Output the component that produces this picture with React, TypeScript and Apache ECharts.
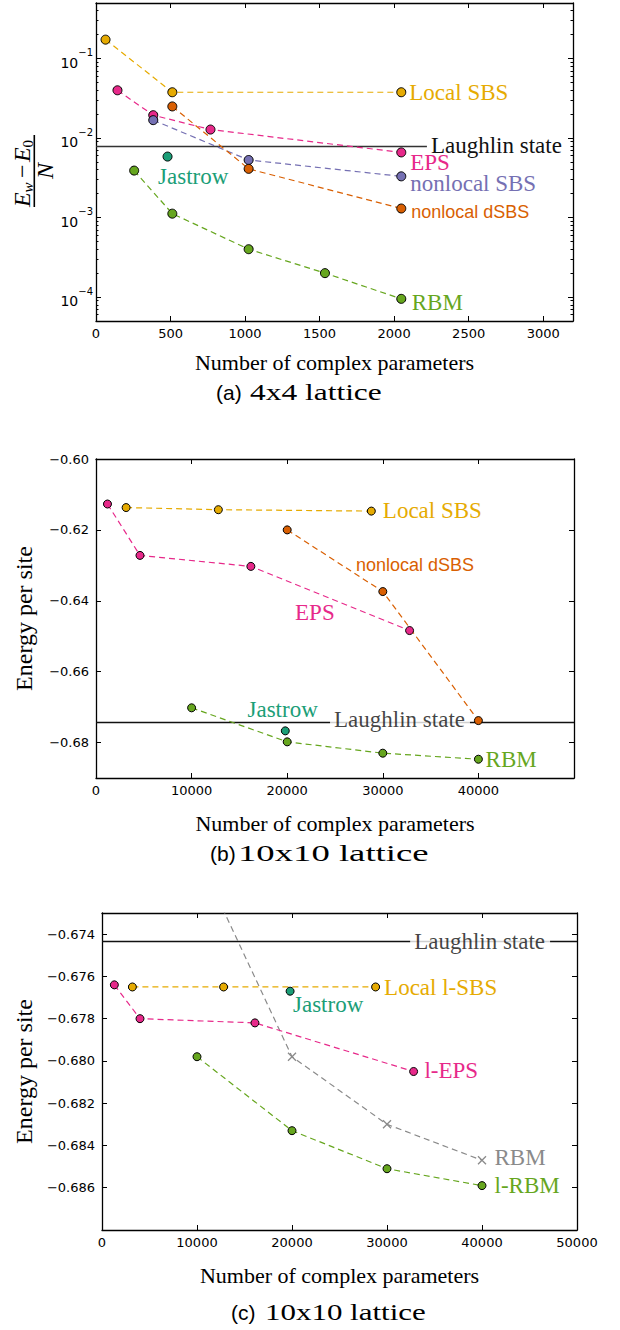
import React, { useEffect, useRef } from "react";
import * as echarts from "echarts";

// ---------- Panel (a): 4x4 lattice (log scale) ----------
const aLocalSBS = [[64, 0.173], [512, 0.0377], [2048, 0.0377]];
const aEPS = [[144, 0.0399], [384, 0.0194], [768, 0.0128], [2048, 0.0066]];
const aNonlocalSBS = [[384, 0.0168], [1024, 0.0053], [2048, 0.0033]];
const aNonlocalDSBS = [[512, 0.025], [1024, 0.0041], [2048, 0.0013]];
const aJastrow = [[480, 0.00585]];
const aRBM = [[256, 0.0039], [512, 0.00112], [1024, 0.0004], [1536, 0.0002], [2048, 0.000095]];
const aLaughlin = 0.00785;
const aLaughlinEnd = 2220;
const aXTicks = [0, 500, 1000, 1500, 2000, 2500, 3000];
const aYMajor = [1e-4, 1e-3, 1e-2, 1e-1];
const aYExponents = ["−4", "−3", "−2", "−1"];
const aYMinor = [
  6e-5, 7e-5, 8e-5, 9e-5,
  2e-4, 3e-4, 4e-4, 5e-4, 6e-4, 7e-4, 8e-4, 9e-4,
  2e-3, 3e-3, 4e-3, 5e-3, 6e-3, 7e-3, 8e-3, 9e-3,
  2e-2, 3e-2, 4e-2, 5e-2, 6e-2, 7e-2, 8e-2, 9e-2,
  2e-1, 3e-1, 4e-1,
];

// ---------- Panel (b): 10x10 lattice ----------
const bLocalSBS = [[3150, -0.6137], [12800, -0.6143], [28800, -0.6147]];
const bEPS = [[1200, -0.6127], [4600, -0.6272], [16200, -0.6303], [32800, -0.6484]];
const bNonlocalDSBS = [[20000, -0.62], [30000, -0.6374], [40000, -0.6738]];
const jastrow10 = [[19800, -0.6767]];
const rbm10 = [[10000, -0.6702], [20000, -0.6798], [30000, -0.683], [40000, -0.6847]];
const laughlin10 = -0.67435;
const bLaughlinLabelX = 31800;
const bXLabels = [0, 10000, 20000, 30000, 40000];
const bYTicks = [-0.68, -0.66, -0.64, -0.62, -0.6];

// ---------- Panel (c): 10x10 lattice, zoomed ----------
const cLocalLSBS = [[3200, -0.6765], [12800, -0.6765], [28800, -0.6765]];
const cLEPS = [[1300, -0.6764], [4000, -0.678], [16100, -0.6782], [32800, -0.6805]];
const cLRBM = [[10000, -0.6798], [20000, -0.6833], [30000, -0.6851], [40000, -0.6859]];
const cLaughlinLabelX = 39800;
const cXLabels = [0, 10000, 20000, 30000, 40000, 50000];
const cYTicks = [-0.686, -0.684, -0.682, -0.68, -0.678, -0.676, -0.674];

const SERIF = "'Liberation Serif', 'Times New Roman', serif";
const SANS = "'DejaVu Sans', sans-serif";
const HELV = "'Liberation Sans', Arial, sans-serif";
const COL = {
  yellow: "#E6AB02",
  pink: "#E7298A",
  purple: "#7570B3",
  orange: "#D95F02",
  green: "#66A61E",
  teal: "#1B9E77",
  gray: "#8a8a8a",
};

const axisLineStyle = { color: "#000", width: 1.3 };
const tickFont = { fontFamily: SANS, fontSize: 13, color: "#000" };

function xAxes(gi: number, max: number, labels: number[], ticks: number[], name: string, nameGap: number) {
  return [
    {
      type: "value", gridIndex: gi, position: "bottom", min: 0, max,
      axisLine: { show: true, onZero: false, lineStyle: axisLineStyle },
      axisTick: { show: true, inside: true, length: 5, customValues: ticks, lineStyle: { color: "#000" } },
      axisLabel: { show: true, customValues: labels, margin: 6, ...tickFont, formatter: (v: number) => String(v) },
      splitLine: { show: false },
      name, nameLocation: "middle", nameGap,
      nameTextStyle: { fontFamily: SERIF, fontSize: 22, color: "#000" },
    },
    {
      type: "value", gridIndex: gi, position: "top", min: 0, max,
      axisLine: { show: true, onZero: false, lineStyle: axisLineStyle },
      axisTick: { show: true, inside: true, length: 5, customValues: ticks, lineStyle: { color: "#000" } },
      axisLabel: { show: false },
      splitLine: { show: false },
    },
  ];
}

function yAxesLinear(gi: number, min: number, max: number, ticks: number[], digits: number, name: string, nameGap: number) {
  const fmt = (v: number) => (v < 0 ? "−" : "") + Math.abs(v).toFixed(digits);
  return [
    {
      type: "value", gridIndex: gi, position: "left", min, max,
      axisLine: { show: true, onZero: false, lineStyle: axisLineStyle },
      axisTick: { show: true, inside: true, length: 5, customValues: ticks, lineStyle: { color: "#000" } },
      axisLabel: { show: true, customValues: ticks, margin: 7, ...tickFont, formatter: fmt },
      splitLine: { show: false },
      name, nameLocation: "middle", nameGap,
      nameTextStyle: { fontFamily: SERIF, fontSize: 24, color: "#000" },
    },
    {
      type: "value", gridIndex: gi, position: "right", min, max,
      axisLine: { show: true, onZero: false, lineStyle: axisLineStyle },
      axisTick: { show: true, inside: true, length: 5, customValues: ticks, lineStyle: { color: "#000" } },
      axisLabel: { show: false },
      splitLine: { show: false },
    },
  ];
}

function logAxis(position: string, ticks: number[], len: number, withLabels: boolean, showLine: boolean) {
  return {
    type: "log", logBase: 10, gridIndex: 0, position, min: 5e-5, max: 0.5,
    axisLine: { show: showLine, onZero: false, lineStyle: axisLineStyle },
    axisTick: { show: true, inside: true, length: len, customValues: ticks, lineStyle: { color: "#000" } },
    axisLabel: withLabels
      ? {
          show: true, customValues: aYMajor, margin: 3, color: "#000",
          formatter: (v: number) => {
            const i = aYMajor.findIndex((m) => Math.abs(Math.log10(m) - Math.log10(v)) < 1e-6);
            return i >= 0 ? "{b|10}{s|" + aYExponents[i] + "}" : "";
          },
          rich: {
            b: { fontFamily: SANS, fontSize: 14, color: "#000", lineHeight: 22, verticalAlign: "bottom" },
            s: { fontFamily: SANS, fontSize: 10, color: "#000", lineHeight: 12, verticalAlign: "top" },
          },
        }
      : { show: false },
    splitLine: { show: false },
  };
}

type LabelCfg = {
  text: string;
  index?: number;
  position?: string;
  distance?: number;
  offset?: number[];
  font?: string;
  size?: number;
  color: string;
};

function pts(data: number[][], lab?: LabelCfg) {
  const li = lab ? (lab.index ?? data.length - 1) : -1;
  return data.map((p, i) =>
    i === li && lab
      ? {
          value: p,
          label: {
            show: true,
            formatter: lab.text,
            position: lab.position ?? "right",
            distance: lab.distance ?? 4,
            offset: lab.offset ?? [0, 0],
            color: lab.color,
            fontFamily: lab.font ?? SERIF,
            fontSize: lab.size ?? 23,
            lineHeight: 17,
          },
        }
      : { value: p }
  );
}

function lineSeries(data: number[][], color: string, xi: number, yi: number, size: number, lab?: LabelCfg, symbol = "circle") {
  const isX = symbol !== "circle";
  return {
    type: "line", xAxisIndex: xi, yAxisIndex: yi,
    data: pts(data, lab),
    symbol, symbolSize: size, showSymbol: true, showAllSymbol: true,
    itemStyle: isX
      ? { color: "none", borderColor: color, borderWidth: 1.3 }
      : { color, borderColor: "#000", borderWidth: 1 },
    lineStyle: { color, width: 1.2, type: [6, 4] },
    label: { show: false },
    emphasis: { disabled: true },
    z: 3,
  };
}

function pointSeries(data: number[][], color: string, xi: number, yi: number, size: number, lab?: LabelCfg) {
  return {
    type: "scatter", xAxisIndex: xi, yAxisIndex: yi,
    data: pts(data, lab),
    symbol: "circle", symbolSize: size,
    itemStyle: { color, borderColor: "#000", borderWidth: 1, opacity: 1 },
    label: { show: false },
    emphasis: { disabled: true },
    z: 4,
  };
}

function laughlinFull(v: number, xmax: number, labelX: number, xi: number, yi: number, dy: number) {
  return [
    {
      type: "line", xAxisIndex: xi, yAxisIndex: yi,
      data: [[0, v], [xmax, v]],
      symbol: "none",
      lineStyle: { color: "#111", width: 1.4, type: "solid" },
      emphasis: { disabled: true },
      z: 2,
    },
    {
      type: "scatter", xAxisIndex: xi, yAxisIndex: yi,
      data: [{
        value: [labelX, v],
        label: {
          show: true, formatter: "Laughlin state", position: "inside", offset: [0, dy],
          color: "#111", fontFamily: SERIF, fontSize: 23, lineHeight: 20,
          backgroundColor: "#fff", padding: [1, 5, 1, 4],
        },
      }],
      symbolSize: 1,
      itemStyle: { color: "rgba(0,0,0,0)" },
      emphasis: { disabled: true },
      z: 2.5,
    },
  ];
}

export default function App() {
  const ref = useRef<HTMLDivElement>(null);

  useEffect(() => {
    if (!ref.current) return;
    const chart = echarts.init(ref.current, undefined, { renderer: "svg" });

    const fracText = (text: string, x: number, y: number, size: number, italic: boolean) => ({
      type: "text", x, y,
      style: {
        text, fontFamily: SERIF, fontSize: size, fontStyle: italic ? "italic" : "normal",
        fill: "#000", align: "left", verticalAlign: "middle",
      },
    });

    const caption = (tag: string, rest: string, x: number, restX: number, scaleX: number, y: number) => ({
      type: "group", x: 0, y,
      children: [
        { type: "text", x, y: 0, style: { text: tag, fontFamily: HELV, fontSize: 21, fill: "#000", align: "left", verticalAlign: "middle" } },
        { type: "text", x: restX, y: 0, scaleX, style: { text: rest, fontFamily: SERIF, fontSize: 24, fill: "#000", align: "left", verticalAlign: "middle" } },
      ],
    });

    const option = {
      animation: false,
      grid: [
        { left: 96, top: 3, width: 477, height: 318 },
        { left: 96, top: 459, width: 478, height: 319 },
        { left: 102, top: 913, width: 475, height: 317 },
      ],
      xAxis: [
        ...xAxes(0, 3200, aXTicks, aXTicks, "Number of complex parameters", 30),
        ...xAxes(1, 50000, bXLabels, bXLabels, "Number of complex parameters", 34),
        ...xAxes(2, 50000, cXLabels, cXLabels, "Number of complex parameters", 34),
      ],
      yAxis: [
        logAxis("left", aYMajor, 5, true, true),
        logAxis("right", aYMajor, 5, false, true),
        logAxis("left", aYMinor, 2.5, false, false),
        logAxis("right", aYMinor, 2.5, false, false),
        ...yAxesLinear(1, -0.69, -0.6, bYTicks, 2, "Energy per site", 60),
        ...yAxesLinear(2, -0.688, -0.673, cYTicks, 3, "Energy per site", 65),
      ],
      series: [
        // (a)
        {
          type: "line", xAxisIndex: 0, yAxisIndex: 0,
          data: [[0, aLaughlin], [aLaughlinEnd, aLaughlin]],
          symbol: "none",
          lineStyle: { color: "#333", width: 1.6, type: "solid" },
          endLabel: { show: true, formatter: "Laughlin state", distance: 4, offset: [0, -1], color: "#111", fontFamily: SERIF, fontSize: 23, lineHeight: 17 },
          emphasis: { disabled: true },
          z: 2,
        },
        lineSeries(aLocalSBS, COL.yellow, 0, 0, 9, { text: "Local SBS", color: COL.yellow, distance: 3 }),
        lineSeries(aEPS, COL.pink, 0, 0, 9, { text: "EPS", color: COL.pink, distance: 4, offset: [0, 10] }),
        lineSeries(aNonlocalSBS, COL.purple, 0, 0, 9, { text: "nonlocal SBS", color: COL.purple, distance: 4, offset: [0, 7.5] }),
        lineSeries(aNonlocalDSBS, COL.orange, 0, 0, 9, { text: "nonlocal dSBS", color: COL.orange, distance: 5, offset: [0, 3.5], font: HELV, size: 18 }),
        lineSeries(aRBM, COL.green, 0, 0, 9, { text: "RBM", color: COL.green, distance: 5.5, offset: [0, 4] }),
        pointSeries(aJastrow, COL.teal, 0, 0, 9, { text: "Jastrow", color: COL.teal, distance: 0, offset: [-14.5, 20] }),

        // (b)
        ...laughlinFull(laughlin10, 50000, bLaughlinLabelX, 2, 4, -3.5),
        lineSeries(bLocalSBS, COL.yellow, 2, 4, 8, { text: "Local SBS", color: COL.yellow, distance: 7, offset: [0, -1] }),
        lineSeries(bEPS, COL.pink, 2, 4, 8, { text: "EPS", color: COL.pink, distance: 0, offset: [-119, -17.7] }),
        lineSeries(bNonlocalDSBS, COL.orange, 2, 4, 8, { text: "nonlocal dSBS", index: 1, color: COL.orange, distance: 0, offset: [-31.3, -26.7], font: HELV, size: 18 }),
        lineSeries(rbm10, COL.green, 2, 4, 8, { text: "RBM", color: COL.green, distance: 2.7, offset: [0, 0.7] }),
        pointSeries(jastrow10, COL.teal, 2, 4, 8, { text: "Jastrow", color: COL.teal, distance: 0, offset: [-42.3, -21] }),

        // (c)
        ...laughlinFull(laughlin10, 50000, cLaughlinLabelX, 4, 6, 0),
        lineSeries(rbm10, COL.gray, 4, 6, 8, { text: "RBM", color: COL.gray, distance: 6, offset: [0, -2.7] }, "path://M0,0L10,10M10,0L0,10"),
        lineSeries(cLocalLSBS, COL.yellow, 4, 6, 8, { text: "Local l-SBS", color: COL.yellow, distance: 4, offset: [0, 0.7] }),
        lineSeries(cLEPS, COL.pink, 4, 6, 8, { text: "l-EPS", color: COL.pink, distance: 6.3, offset: [0, -0.7] }),
        lineSeries(cLRBM, COL.green, 4, 6, 8, { text: "l-RBM", color: COL.green, distance: 8, offset: [0, 0] }),
        pointSeries(jastrow10, COL.teal, 4, 6, 8, { text: "Jastrow", color: COL.teal, distance: 0, offset: [-1.6, 13.3] }),
      ],
      graphic: [
        {
          type: "group", x: 34.3, y: 171, rotation: Math.PI / 2,
          children: [
            { type: "line", shape: { x1: -36, y1: 0, x2: 36, y2: 0 }, style: { stroke: "#000", lineWidth: 1.6 } },
            fracText("E", -36, -11.9, 24, true),
            fracText("w", -21.5, -6.3, 15, true),
            fracText("−", -7, -11.9, 24, false),
            fracText("E", 9, -11.9, 24, true),
            fracText("0", 23.5, -6.3, 15, false),
            fracText("N", -8, 10.6, 24, true),
          ],
        },
        caption("(a)", "4x4 lattice", 216, 250, 1.31, 392),
        caption("(b)", "10x10 lattice", 210, 238, 1.53, 853),
        caption("(c)", "10x10 lattice", 231, 265, 1.29, 1312),
      ],
    };

    chart.setOption(option as any);
    return () => chart.dispose();
  }, []);

  return (
    <div
      ref={ref}
      style={{ position: "absolute", left: 0, top: 0, width: 620, height: 1330, background: "#fff" }}
    />
  );
}
